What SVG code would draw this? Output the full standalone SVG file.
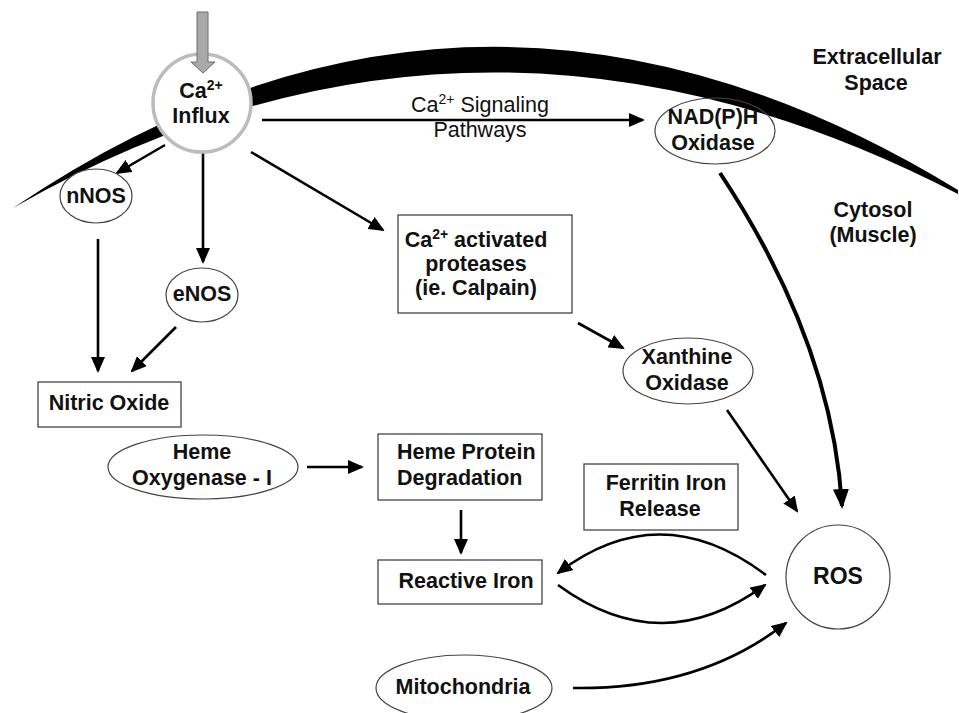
<svg xmlns="http://www.w3.org/2000/svg" width="959" height="713" viewBox="0 0 959 713">
<style>
text{font-family:"Liberation Sans",Arial,sans-serif;font-size:21.5px;font-weight:bold;fill:#111;text-anchor:middle}
.reg{font-weight:normal}
.sup{font-size:14px}
.box{fill:#fff;stroke:#444;stroke-width:1.3}
.ell{fill:#fff;stroke:#444;stroke-width:1.2}
.c{fill:none;stroke:#000;stroke-width:2.6}
.thick{fill:none;stroke:#000;stroke-width:4}
</style>
<defs>
<marker id="ah" markerUnits="userSpaceOnUse" markerWidth="16" markerHeight="14" refX="14" refY="7" orient="auto"><path d="M0,0 L16,7 L0,14 Z" fill="#000"/></marker>
<marker id="ahb" markerUnits="userSpaceOnUse" markerWidth="20" markerHeight="16" refX="17" refY="8" orient="auto"><path d="M0,0 L20,8 L0,16 Z" fill="#000"/></marker>
</defs>
<rect width="959" height="713" fill="#fff"/>
<g id="membrane">
<path d="M13,208 Q475,-105 958,190 L958,194 Q475,-56 13,208 Z" fill="#000"/>
</g>
<g id="extracellular"><text x="877" y="64">Extracellular</text><text x="876" y="90">Space</text></g>
<g id="cytosol"><text x="873" y="217">Cytosol</text><text x="873" y="242">(Muscle)</text></g>
<g id="connectors">
<path class="c" d="M262,120 L643,120" marker-end="url(#ah)"/>
<path class="c" d="M165,145 L117,173" marker-end="url(#ah)"/>
<path class="c" d="M203,153 L203,262" marker-end="url(#ah)"/>
<path class="c" d="M98,239 L98,371" marker-end="url(#ah)"/>
<path class="c" d="M176,327 L132,371" marker-end="url(#ah)"/>
<path class="c" d="M251,152 L383,230" marker-end="url(#ah)"/>
<path class="c" d="M578,323 L623,348" marker-end="url(#ah)"/>
<path class="c" d="M727,410 L797,511" marker-end="url(#ah)"/>
<path class="thick" d="M720,173 Q832,342 842,506" marker-end="url(#ahb)"/>
<path class="c" d="M307,467 L362,467" marker-end="url(#ah)"/>
<path class="c" d="M461,510 L461,553" marker-end="url(#ah)"/>
<path class="c" d="M766,575 Q660,495 558,573" marker-end="url(#ah)"/>
<path class="c" d="M558,585 Q662,661 765,585" marker-end="url(#ah)"/>
<path class="c" d="M573,688 Q700,690 786,623" marker-end="url(#ah)"/>
<text class="reg" x="480" y="112"><tspan>Ca</tspan><tspan class="sup" dy="-8">2+</tspan><tspan dy="8"> Signaling</tspan></text>
<text class="reg" x="480" y="137">Pathways</text>
</g>
<g id="ca-influx">
<circle cx="202" cy="103" r="49" fill="#fff" stroke="#bcbcbc" stroke-width="3.5"/>
<polygon points="197,12 208,12 208,62 215,62 203,73 191,62 197,62" fill="#a9a9a9" stroke="#6e6e6e" stroke-width="1"/>
<text x="201" y="98"><tspan>Ca</tspan><tspan class="sup" dy="-8">2+</tspan></text>
<text x="201" y="123">Influx</text>
</g>
<g id="nadph"><ellipse cx="715" cy="131" rx="60" ry="33" fill="none" stroke="#444" stroke-width="1.2"/><text x="713" y="124">NAD(P)H</text><text x="713" y="150">Oxidase</text></g>
<g id="nnos"><ellipse class="ell" cx="96" cy="196" rx="36" ry="27"/><text x="96" y="203">nNOS</text></g>
<g id="enos"><ellipse class="ell" cx="202" cy="295" rx="36" ry="27"/><text x="202" y="301">eNOS</text></g>
<g id="nitric-oxide"><rect class="box" x="38" y="382" width="143" height="45"/><text x="109" y="410">Nitric Oxide</text></g>
<g id="proteases"><rect class="box" x="398" y="215" width="174" height="98"/>
<text x="476" y="247"><tspan>Ca</tspan><tspan class="sup" dy="-8">2+</tspan><tspan dy="8"> activated</tspan></text>
<text x="476" y="271">proteases</text><text x="476" y="295">(ie. Calpain)</text></g>
<g id="xanthine"><ellipse class="ell" cx="688" cy="371" rx="65" ry="33"/><text x="687" y="364">Xanthine</text><text x="687" y="390">Oxidase</text></g>
<g id="heme-oxygenase"><ellipse class="ell" cx="203" cy="467" rx="95" ry="32"/><text x="202" y="459">Heme</text><text x="202" y="485">Oxygenase - I</text></g>
<g id="heme-protein"><rect class="box" x="378" y="434" width="164" height="66"/><text x="397" y="459" style="text-anchor:start">Heme Protein</text><text x="397" y="485" style="text-anchor:start">Degradation</text></g>
<g id="reactive-iron"><rect class="box" x="378" y="560" width="164" height="44"/><text x="466" y="588">Reactive Iron</text></g>
<g id="ferritin"><rect class="box" x="584" y="464" width="154" height="66"/><text x="666" y="490">Ferritin Iron</text><text x="660" y="516">Release</text></g>
<g id="ros"><circle cx="838" cy="577" r="52" fill="#fff" stroke="#444" stroke-width="1.2"/><text x="838" y="584" style="font-size:23px">ROS</text></g>
<g id="mitochondria"><ellipse class="ell" cx="464" cy="688" rx="88" ry="33"/><text x="463" y="694">Mitochondria</text></g>
</svg>
